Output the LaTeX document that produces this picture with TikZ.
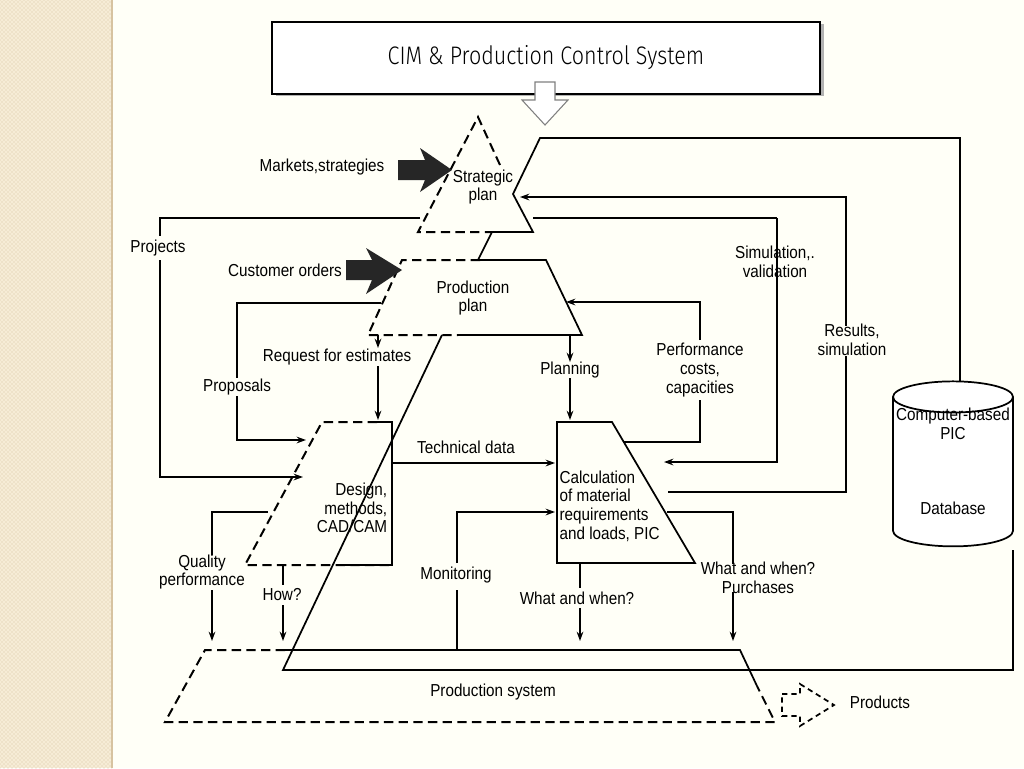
\documentclass[tikz,border=0pt]{standalone}
\usepackage{fontspec}
\setmainfont{Liberation Sans}[FakeStretch=0.88]
\newfontfamily\titlefont{Fira Sans Light}
\usetikzlibrary{arrows.meta,shapes.geometric,patterns}
\definecolor{strip}{RGB}{246,236,214}
\definecolor{stripline}{RGB}{215,195,160}
\begin{document}
\begin{tikzpicture}[x=0.75pt,y=-0.75pt,
  ln/.style={line width=1.3pt},
  dsh/.style={line width=1.5pt,dash pattern=on 7pt off 4pt},
  ar/.style={ln,-{Stealth[length=7pt,width=5pt]}},
  lb/.style={font=\fontsize{13}{14}\selectfont,align=center,inner sep=1pt},
  big/.style={fill=black!85,draw=none}]
\useasboundingbox (0,0) rectangle (1024,768);
\fill[white!97!yellow] (0,0) rectangle (1024,768);
\fill[strip] (0,0) rectangle (112,768);
\fill[pattern=crosshatch dots,pattern color=stripline] (0,0) rectangle (112,768);
\draw[stripline,line width=1.5pt] (112,0) -- (112,768);
% title
\fill[black!30] (276,24) rectangle (824,96);
\node[draw,line width=1.2pt,fill=white,minimum width=548*0.75pt,minimum height=72*0.75pt,inner sep=0,font=\titlefont\fontsize{19}{20}\selectfont] (title) at (546,58) {\addfontfeature{FakeStretch=0.85}CIM \& Production Control System};
\draw[gray,fill=white,line width=0.8pt] (535,82) -- (535,100) -- (522,100) -- (545,125) -- (568,100) -- (555,100) -- (555,82) -- cycle;
% strategic triangle
\draw[dsh] (500,165) -- (478,117) -- (418,232) -- (490,232);
\draw[ln] (490,232) -- (533,232) -- (513,194) -- (540,138) -- (960,138) -- (960,395);
% production plan
\draw[dsh] (480,260) -- (402,260) -- (368,335) -- (458,335);
\draw[ln] (480,260) -- (546,260) -- (582,335) -- (458,335);
% long diagonal
\draw[ln] (492,232) -- (478,260);
\draw[ln] (442,335) -- (283,670) -- (1013,670) -- (1013,550);
% design
\draw[dsh] (377,422) -- (322,422) -- (245,565) -- (392,565);
\draw[ln] (377,422) -- (392,422) -- (392,565) -- (345,565);
% calculation
\draw[ln] (557,422) -- (612,422) -- (695,563) -- (557,563) -- cycle;
% production system
\draw[dsh] (285,650) -- (205,650) -- (165,722) -- (775,722) -- (757,686);
\draw[ln] (285,650) -- (740,650) -- (757,686);
% database
\node[cylinder,shape border rotate=90,draw,line width=1.3pt,minimum width=120*0.75pt,minimum height=165*0.75pt,aspect=3.5,fill=white] (db) at (953,475) {};
\node[lb] (dbt) at (953,424) {Computer-based\\PIC};
\node[lb] (dbl) at (953,508) {Database};
% thick arrows
\fill[big] (398,160) -- (425,160) -- (420,148) -- (452,170) -- (420,192) -- (425,180) -- (398,180) -- cycle;
\fill[big] (346,260) -- (372,260) -- (366,248) -- (402,270) -- (366,294) -- (372,280) -- (346,280) -- cycle;
% labels
\node[lb] (mk) at (322,167) {Markets,strategies};
\node[lb] (sp) at (483,187) {Strategic\\plan};
\node[lb] (pj) at (158,248) {Projects};
\node[lb] (co) at (285,270) {Customer orders};
\node[lb] (pp) at (473,298) {Production\\plan};
\node[lb] (sv) at (775,262) {Simulation,.\\validation};
\node[lb] (rs) at (852,340) {Results,\\simulation};
\node[lb] (re) at (337,357) {Request for estimates};
\node[lb] (pr) at (237,387) {Proposals};
\node[lb] (pl) at (570,370) {Planning};
\node[lb] (pc) at (700,370) {Performance\\costs,\\capacities};
\node[lb] (td) at (466,447) {Technical data};
\node[lb,align=right] (ds) at (352,508) {Design,\\methods,\\CAD/CAM};
\node[lb,align=left,anchor=west] (cl) at (558,506) {Calculation\\of material\\requirements\\and loads, PIC};
\node[lb] (qp) at (202,572) {Quality\\performance};
\node[lb] (hw) at (282,595) {How?};
\node[lb] (mo) at (456,575) {Monitoring};
\node[lb] (ww) at (577,598) {What and when?};
\node[lb] (wp) at (758,578) {What and when?\\Purchases};
\node[lb] (ps) at (493,692) {Production system};
\node[lb] (pd) at (880,702) {Products};
% connectors
\draw[ar] (777,218) -- (777,462) -- (664,462);
\draw[ln] (777,218) -- (533,218);
\draw[ln] (420,218) -- (160,218) -- (160,236);
\draw[ar] (160,260) -- (160,477) -- (303,477);
\draw[ar] (846,326) |- (520,197);
\draw[ln] (846,356) -- (846,492) -- (668,492);
\draw[ar] (700,340) |- (566,302);
\draw[ln] (700,400) -- (700,442) -- (624,442);
\draw[ar] (570,335) -- (570,362);
\draw[ar] (570,378) -- (570,420);
\draw[ln] (381,303) -- (237,303) -- (237,378);
\draw[ar] (237,396) -- (237,440) -- (306,440);
\draw[ar] (378,335) -- (378,348);
\draw[ar] (378,366) -- (378,420);
\draw[ar] (392,463) -- (555,463);
\draw[ln] (268,512) -- (212,512) -- (212,555);
\draw[ar] (212,590) -- (212,641);
\draw[ln] (283,565) -- (283,585);
\draw[ar] (283,605) -- (283,641);
\draw[ln] (457,650) -- (457,590);
\draw[ar] (457,563) -- (457,512) -- (555,512);
\draw[ln] (580,563) -- (580,588);
\draw[ar] (580,608) -- (580,641);
\draw[ln] (667,512) -- (733,512) -- (733,564);
\draw[ar] (733,592) -- (733,641);
% products arrow
\draw[line width=1.3pt,dash pattern=on 4pt off 3pt] (782,694) -- (800,694) -- (800,684) -- (834,705) -- (800,726) -- (800,716) -- (782,716) -- cycle;
\end{tikzpicture}
\end{document}
